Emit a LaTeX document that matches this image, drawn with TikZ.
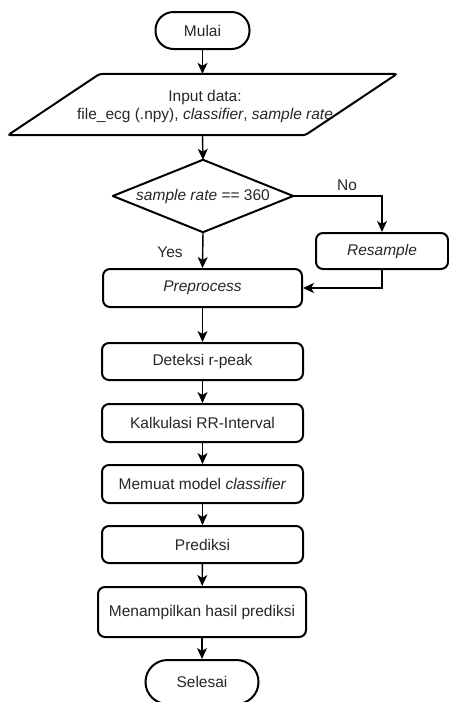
\documentclass[tikz,border=0pt]{standalone}
\usepackage{fontspec}
\setmainfont{Liberation Sans}
\usetikzlibrary{arrows.meta,calc}
\begin{document}
\begin{tikzpicture}[x=1pt,y=-1pt,
  every node/.style={font=\fontsize{15.5}{18}\selectfont, text=black!85},
  box/.style={draw, line width=2pt, rounded corners=7pt, minimum height=37pt, inner sep=0pt},
  term/.style={draw, line width=2pt, rounded corners=18pt, inner sep=0pt},
  ghost/.style={inner sep=0pt},
  arr/.style={line width=1.4pt, -{Stealth[length=11pt,width=10pt,inset=3pt]}},
  lbl/.style={inner sep=0pt}
]
\useasboundingbox (0,0) rectangle (449,702);

\node[term, minimum width=94pt, minimum height=37pt] (mulai) at (202.5,30.5) {Mulai};

\node[ghost, minimum width=297pt, minimum height=61pt] (input) at (202.5,104.5) {};
\draw[line width=2pt, rounded corners=3pt]
  ([xshift=46pt]input.north west) -- ([xshift=46pt]input.north east)
  -- ([xshift=-46pt]input.south east) -- ([xshift=-46pt]input.south west) -- cycle;
\node[ghost, align=center] (inputtxt) at (205,106) {Input data:\\file\_ecg (.npy), \textit{classifier}, \textit{sample rate}};

\node[ghost, minimum width=180pt, minimum height=72pt] (dec) at (203,196) {};
\draw[line width=2pt, line join=round] (dec.north) -- (dec.east) -- (dec.south) -- (dec.west) -- cycle;
\node[ghost] (dectxt) at (203,196) {\textit{sample rate} == 360};

\node[box, minimum width=132pt, minimum height=36pt] (resample) at (382,251) {\textit{Resample}};
\node[box, minimum width=199pt, minimum height=38pt] (preprocess) at (202.5,288) {\textit{Preprocess}};
\node[box, minimum width=201pt] (deteksi) at (202.5,361.5) {Deteksi r-peak};
\node[box, minimum width=201pt, minimum height=38pt] (kalkulasi) at (202.5,423) {Kalkulasi RR-Interval};
\node[box, minimum width=201pt, minimum height=38pt] (memuat) at (202.5,484) {Memuat model \textit{classifier}};
\node[box, minimum width=201pt] (prediksi) at (202.5,544.5) {Prediksi};
\node[box, minimum width=208pt, minimum height=50pt] (tampil) at (202,612) {Menampilkan hasil prediksi};
\node[term, minimum width=113pt, minimum height=44pt, rounded corners=22pt] (selesai) at (202,682) {Selesai};

\node[lbl] (no) at (347,185) {No};
\node[lbl] (yes) at (170,252) {Yes};

\draw[arr] (mulai) -- (input.north);
\draw[arr] (input.south) -- (dec.north);
\draw[arr] (dec.east) -| (resample.north);
\draw[arr] (dec.south) -- (preprocess.north);
\draw[arr] (resample.south) |- (preprocess.east);
\draw[arr] (preprocess) -- (deteksi);
\draw[arr] (deteksi) -- (kalkulasi);
\draw[arr] (kalkulasi) -- (memuat);
\draw[arr] (memuat) -- (prediksi);
\draw[arr] (prediksi) -- (tampil);
\draw[arr] (tampil) -- (selesai);
\end{tikzpicture}
\end{document}
